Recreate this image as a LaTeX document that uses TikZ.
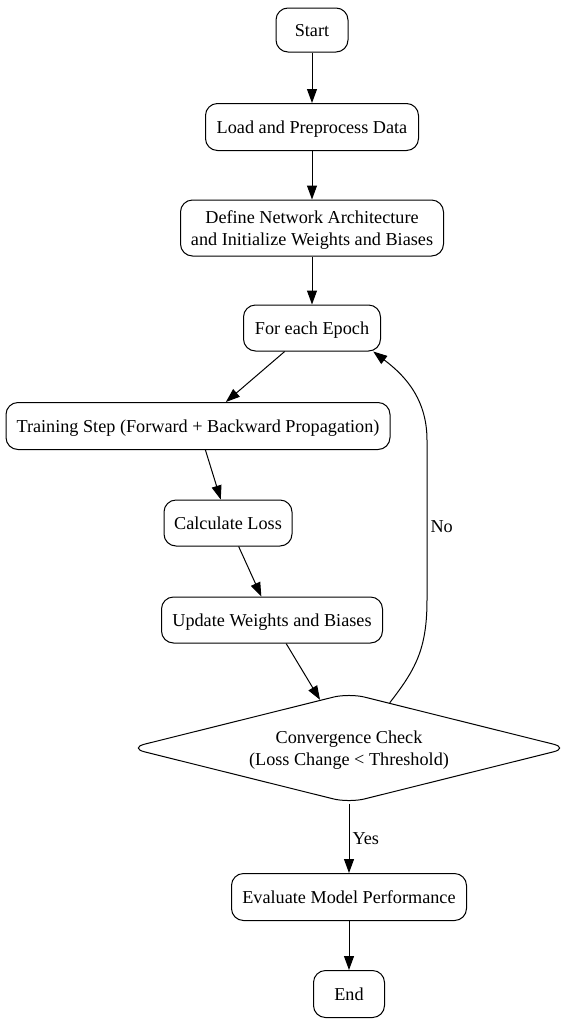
\documentclass[tikz,border=0pt]{standalone}
\usepackage{fontspec}
\setmainfont{Liberation Serif}
\usetikzlibrary{shapes.geometric,arrows.meta}
\tikzset{
  box/.style={draw, rounded corners=12pt, line width=1pt, inner sep=2pt, align=center, text depth=0pt,
    font=\fontsize{18.2}{22}\selectfont},
  dec/.style={draw, diamond, aspect=4, rounded corners=16pt, line width=1pt, inner sep=0pt, align=center, text depth=0pt,
    font=\fontsize{18.2}{22}\selectfont, minimum width=440pt, minimum height=110pt},
  conn/.style={line width=1pt, -{Triangle[length=14pt,width=10pt]}},
  lbl/.style={font=\fontsize{18.2}{22}\selectfont, inner sep=3pt}
}
\begin{document}
\begin{tikzpicture}[x=1pt,y=-1pt]
\useasboundingbox (0,0) rectangle (575,1023);
\node[box, minimum width=72pt, minimum height=44pt] (start) at (312,30) {Start};
\node[box, minimum width=213pt, minimum height=47pt] (load) at (312,127) {Load and Preprocess Data};
\node[box, minimum width=263pt, minimum height=56pt] (define) at (312,228) {Define Network Architecture\\and Initialize Weights and Biases};
\node[box, minimum width=137pt, minimum height=46pt] (epoch) at (312,328) {For each Epoch};
\node[box, minimum width=384pt, minimum height=47pt] (train) at (198,426) {Training Step (Forward + Backward Propagation)};
\node[box, minimum width=128pt, minimum height=46pt] (calc) at (228,523) {Calculate Loss};
\node[box, minimum width=221pt, minimum height=46pt] (update) at (272,620) {Update Weights and Biases};
\node[dec] (dia) at (349,748) {Convergence Check\\(Loss Change < Threshold)};
\node[box, minimum width=235pt, minimum height=47pt] (eval) at (349,897) {Evaluate Model Performance};
\node[box, minimum width=71pt, minimum height=47pt] (end) at (349,994) {End};

\draw[conn] (start) -- (load);
\draw[conn] (load) -- (define);
\draw[conn] (define) -- (epoch);
\draw[conn] (epoch) -- (train);
\draw[conn] (train) -- (calc);
\draw[conn] (calc) -- (update);
\draw[conn] (update) -- (dia);
\draw[conn] (dia) -- node[lbl, right] {Yes} (eval);
\draw[conn] (eval) -- (end);
\draw[conn] (dia.48) .. controls (415,670) and (427,650) .. (427,600)
  -- node[lbl, right, pos=0.46] {No} (427,440)
  .. controls (427,395) and (400,372) .. (epoch.-21);
\end{tikzpicture}
\end{document}
